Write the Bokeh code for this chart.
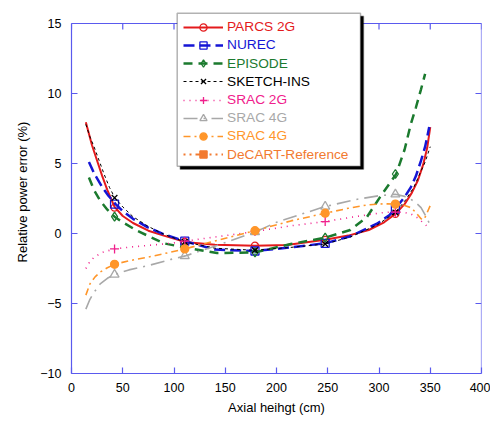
from bokeh.plotting import figure
from bokeh.models import Legend, LegendItem, FixedTicker, BoxAnnotation
from bokeh.embed import file_html
from bokeh.resources import INLINE

NaN = float("nan")

# ---------------- data ----------------
x_ticks = [0, 50, 100, 150, 200, 250, 300, 350, 400]
y_ticks = [-10, -5, 0, 5, 10, 15]

marker_x = [42, 110.5, 179, 247.5, 316]

parcs_x = [14, 20, 25, 30, 35, 42, 50, 60, 75, 90, 110.5, 140, 179, 210, 247.5, 270, 290, 305, 316, 325, 332, 338, 343, 347, 350]
parcs_y = [7.95, 6.3, 5.2, 4.1, 3.1, 1.9, 1.25, 0.75, 0.2, -0.15, -0.6, -0.8, -0.87, -0.82, -0.45, -0.15, 0.25, 0.8, 1.4, 2.1, 2.9, 3.8, 4.9, 6.1, 7.6]
parcs_m = [1.85, -0.6, -0.87, -0.45, 1.4]

nurec_x = [17, 22, 30, 36, 43, 50, 60, 74, 90, 110.5, 140, 179, 213, 247.5, 272, 298, 310, 316, 325, 331, 336, 341, 345, 349]
nurec_y = [5.1, 4.3, 3.3, 2.7, 2.1, 1.6, 1.05, 0.45, -0.05, -0.55, -1.15, -1.25, -1.0, -0.7, -0.2, 0.7, 1.3, 1.8, 2.6, 3.3, 4.1, 5.2, 6.2, 7.6]
nurec_m = [2.1, -0.55, -1.25, -0.7, 1.75]

episode_x = [17, 22, 28, 35, 42, 50, 64, 90, 110.5, 142, 179, 214, 247.5, 272, 288, 301, 316.8, 325, 331, 336, 341, 345]
episode_y = [4.0, 3.1, 2.35, 1.7, 1.2, 0.8, 0.2, -0.7, -1.0, -1.4, -1.35, -0.75, -0.3, 0.25, 1.15, 2.6, 4.25, 6.0, 7.8, 9.0, 10.3, 11.4]
episode_m = [1.2, -1.0, -1.35, -0.3, 4.25]

sketch_x = [14, 18, 22, 27, 32, 37, 42.3, 50, 60, 75, 90, 110.5, 140, 179, 213, 247.5, 272, 298, 316, 326, 334, 340, 345, 350]
sketch_y = [7.8, 6.9, 6.2, 5.2, 4.2, 3.3, 2.55, 1.9, 1.2, 0.5, -0.05, -0.6, -1.05, -1.2, -1.0, -0.75, -0.25, 0.6, 1.5, 2.4, 3.3, 4.3, 5.1, 6.2]
sketch_m = [2.55, -0.6, -1.2, -0.75, 1.5]

srac2g_x = [14, 18, 22, 30, 42, 60, 75, 97, 110.5, 130, 155, 180, 214, 247.5, 272, 290, 305, 316, 325, 331, 338, 344, 349]
srac2g_y = [-2.5, -2.0, -1.7, -1.35, -1.1, -0.95, -0.85, -0.7, -0.55, -0.35, -0.1, 0.15, 0.55, 0.85, 1.15, 1.35, 1.5, 1.55, 1.5, 1.4, 1.1, 0.7, 0.4]
srac2g_m = [-1.1, -0.55, 0.15, 0.85, 1.52]

srac4g_gray_x = [14, 18, 22, 28, 35, 42, 56, 77, 97, 111, 142, 179, 200, 225, 247.5, 279, 300, 316, 328, 336, 341, 346, 350]
srac4g_gray_y = [-5.4, -4.7, -4.2, -3.6, -3.2, -2.93, -2.6, -2.25, -1.85, -1.6, -0.85, 0.1, 0.8, 1.4, 1.93, 2.45, 2.7, 2.8, 2.6, 2.2, 1.85, 1.2, 0.6]
srac4g_gray_m = [-2.93, -1.6, 0.1, 1.93, 2.8]

srac4g_orng_x = [14, 18, 23, 28, 35, 42, 56, 74, 97, 110.5, 142, 179, 214, 247.5, 270, 289, 305, 316, 325, 331, 336, 341, 344, 347, 350]
srac4g_orng_y = [-4.4, -3.6, -3.1, -2.75, -2.45, -2.2, -1.95, -1.7, -1.33, -1.1, -0.5, 0.2, 0.9, 1.45, 1.8, 2.05, 2.12, 2.1, 2.0, 1.85, 1.5, 1.05, 1.0, 1.5, 2.0]
srac4g_orng_m = [-2.2, -1.1, 0.2, 1.45, 2.1]

# the reference itself has no curve drawn in the chart (legend entry only)
decart_x = [NaN]
decart_y = [NaN]
decart_m = [NaN]

FONT = "Liberation Sans"
AXIS_BLUE = "#5a5aee"

X0, X1 = x_ticks[0], x_ticks[-1]
Y0, Y1 = y_ticks[0], y_ticks[-1]
PX_PER_Y = 14.0           # pixels per y unit (350 px for 25 units)
PX_PER_X = 410.0 / 400.0  # pixels per x unit
TOP_ROOM_PX = 13          # extra room above the axes box for the legend
TICK_PX = 6

p = figure(width=490, height=421, x_range=(X0, X1),
           y_range=(Y0, Y1 + TOP_ROOM_PX / PX_PER_Y),
           output_backend="svg", toolbar_location=None,
           min_border_left=71, min_border_right=9, min_border_top=10, min_border_bottom=48)
p.xgrid.visible = False
p.ygrid.visible = False
p.outline_line_color = None
p.background_fill_color = "white"
p.border_fill_color = "white"

for ax in (p.xaxis[0], p.yaxis[0]):
    ax.axis_line_color = AXIS_BLUE
    ax.axis_line_width = 1.2
    ax.major_tick_line_color = AXIS_BLUE
    ax.major_tick_line_width = 1.2
    ax.major_tick_in = TICK_PX
    ax.major_tick_out = 0
    ax.minor_tick_in = 0
    ax.minor_tick_out = 0
    ax.major_label_text_font = FONT
    ax.major_label_text_color = "black"
    ax.major_label_text_font_size = "12.5px"
    ax.axis_label_text_font = FONT
    ax.axis_label_text_font_style = "normal"
    ax.axis_label_text_color = "black"
    ax.axis_label_text_font_size = "13px"

p.xaxis.ticker = FixedTicker(ticks=x_ticks)
p.yaxis.ticker = FixedTicker(ticks=y_ticks)
p.yaxis.bounds = (Y0, Y1)
p.xaxis.axis_label = "Axial heihgt (cm)"
p.yaxis.axis_label = "Relative power error (%)"
p.xaxis.major_label_standoff = 9
p.xaxis.axis_label_standoff = 5
p.yaxis.major_label_standoff = 10
p.yaxis.axis_label_standoff = 7

# top and right sides of the axes box, with inward ticks
p.segment(x0=[X0, X1], y0=[Y1, Y0], x1=[X1, X1], y1=[Y1, Y1],
          line_color=AXIS_BLUE, line_width=1.2)
p.segment(x0=x_ticks, y0=[Y1] * len(x_ticks), x1=x_ticks,
          y1=[Y1 - TICK_PX / PX_PER_Y] * len(x_ticks), line_color=AXIS_BLUE, line_width=1.2)
p.segment(x0=[X1] * len(y_ticks), y0=y_ticks, x1=[X1 - TICK_PX / PX_PER_X] * len(y_ticks),
          y1=y_ticks, line_color=AXIS_BLUE, line_width=1.2)

series = [
    dict(name="PARCS 2G", x=parcs_x, y=parcs_y, m=parcs_m, color="#e41a1c", dash="solid", lw=2.0,
         marker="circle", ms=7, fill=None),
    dict(name="NUREC", x=nurec_x, y=nurec_y, m=nurec_m, color="#1515d5", dash="11 5", lw=2.5,
         marker="square", ms=8, fill=None),
    dict(name="EPISODE", x=episode_x, y=episode_y, m=episode_m, color="#1b7a2e", dash="9 6", lw=2.5,
         marker="diamond", ms=9, fill=None),
    dict(name="SKETCH-INS", x=sketch_x, y=sketch_y, m=sketch_m, color="#000000", dash="3 3", lw=1.0,
         marker="x", ms=8, fill=None),
    dict(name="SRAC 2G", x=srac2g_x, y=srac2g_y, m=srac2g_m, color="#f0208c", dash="1 5", lw=1.6,
         marker="cross", ms=9, fill=None),
    dict(name="SRAC 4G", x=srac4g_gray_x, y=srac4g_gray_y, m=srac4g_gray_m, color="#a8a8a8", dash="14 6 2 6", lw=1.6,
         marker="triangle", ms=9, fill=None),
    dict(name="SRAC 4G", x=srac4g_orng_x, y=srac4g_orng_y, m=srac4g_orng_m, color="#ff962a", dash="7 4 2 4", lw=1.6,
         marker="circle", ms=8, fill="#ff962a"),
    dict(name="DeCART-Reference", x=decart_x, y=decart_y, m=decart_m, color="#f27a30", dash="2 4 2 4 10 4", lw=1.8,
         marker="square", ms=8, fill="#f27a30"),
]

# legend frame (screen units relative to the plot frame, y measured from its bottom)
BOX_L, BOX_R, BOX_B, BOX_T = 105.7, 289.0, 207.3, 360.3
SH = 3
p.add_layout(BoxAnnotation(left=BOX_L + SH, right=BOX_R + SH, bottom=BOX_B - SH, top=BOX_T - SH,
                           left_units="screen", right_units="screen", bottom_units="screen",
                           top_units="screen", fill_color="black", fill_alpha=1.0,
                           line_color="black", line_width=1.5, level="overlay"))
p.add_layout(BoxAnnotation(left=BOX_L, right=BOX_R, bottom=BOX_B, top=BOX_T,
                           left_units="screen", right_units="screen", bottom_units="screen",
                           top_units="screen", fill_color="white", fill_alpha=1.0,
                           line_color="black", line_width=1.5, level="overlay"))

ROW = 18
PAD = 6
ROW_STEP = 18.2
FIRST_CENTER = 352.3   # frame-relative centre of the first legend row
ITEM_LEFT = 112

for i, s in enumerate(series):
    lr = p.line(s["x"], s["y"], line_color=s["color"], line_width=s["lw"], line_dash=s["dash"])
    mx = marker_x[:len(s["m"])]
    sr = p.scatter(mx, s["m"], marker=s["marker"], size=s["ms"], line_color=s["color"],
                   line_width=1.3, fill_color=s["fill"])
    center = FIRST_CENTER - ROW_STEP * i
    lg = Legend(items=[LegendItem(label=s["name"], renderers=[lr, sr])],
                location=(ITEM_LEFT, center - ROW / 2 - PAD),
                background_fill_color=None, border_line_color=None,
                glyph_width=40, glyph_height=ROW, label_height=ROW, label_standoff=4,
                padding=PAD, spacing=0, margin=0, label_text_font=FONT,
                label_text_font_size="13.7px", label_text_color=s["color"], level="overlay")
    p.add_layout(lg)

open("out.html", "w").write(file_html(p, INLINE))
